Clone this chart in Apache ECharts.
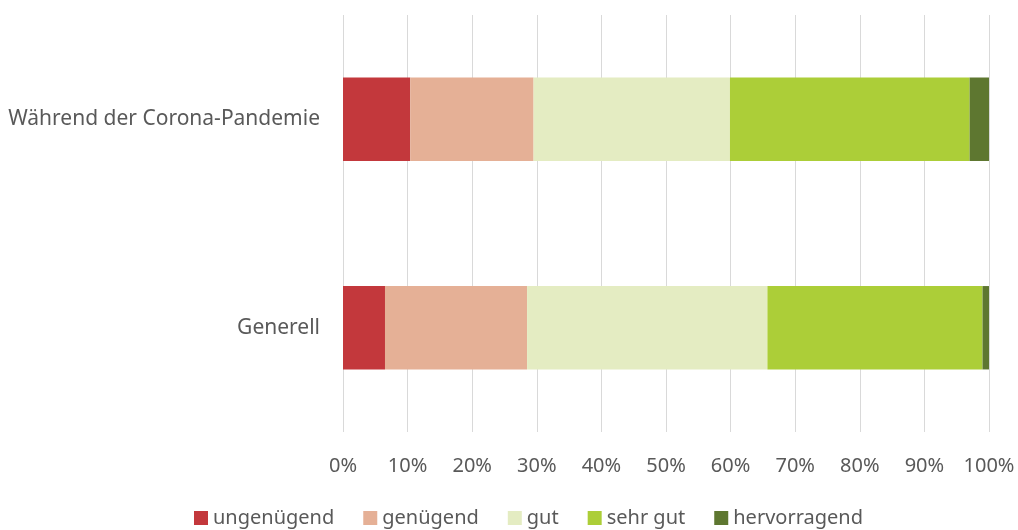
<!DOCTYPE html>
<html>
<head>
<meta charset="utf-8">
<script src="https://cdn.jsdelivr.net/npm/echarts@6/dist/echarts.min.js"></script>
<style>
  html, body { margin: 0; padding: 0; background: #fff; }
  #chart { width: 1018px; height: 530px; }
</style>
</head>
<body>
<div id="chart"></div>
<script>
const categories = ['Während der Corona-Pandemie', 'Generell']
const seriesNames = ['ungenügend', 'genügend', 'gut', 'sehr gut', 'hervorragend']
const ungenuegend = [10.4, 6.5]
const genuegend = [19.1, 22.0]
const gut = [30.4, 37.2]
const sehrGut = [37.1, 33.3]
const hervorragend = [3.0, 1.0]
const xTicks = [0, 10, 20, 30, 40, 50, 60, 70, 80, 90, 100]

const colors = ['#C3383C', '#E5B096', '#E4ECC2', '#ACCE38', '#5E7730']
const values = [ungenuegend, genuegend, gut, sehrGut, hervorragend]
const font = 'Noto Sans'
const textColor = '#595959'

const chart = echarts.init(document.getElementById('chart'))
chart.setOption({
  animation: false,
  grid: { left: 343, right: 29, top: 15, bottom: 98 },
  legend: {
    top: 503,
    left: 189,
    itemWidth: 14,
    itemHeight: 14,
    itemGap: 29,
    icon: 'rect',
    textStyle: { color: textColor, fontSize: 20, fontFamily: font },
    data: seriesNames
  },
  xAxis: {
    type: 'value',
    min: xTicks[0],
    max: xTicks[xTicks.length - 1],
    interval: 10,
    axisLine: { show: false },
    axisTick: { show: false },
    axisLabel: { color: textColor, fontSize: 20, fontFamily: font, margin: 24, formatter: '{value}%' },
    splitLine: { lineStyle: { color: '#D9D9D9', width: 1 } }
  },
  yAxis: {
    type: 'category',
    inverse: true,
    data: categories,
    axisLine: { show: false },
    axisTick: { show: false },
    axisLabel: { color: textColor, fontSize: 21, fontFamily: font, margin: 23 }
  },
  series: seriesNames.map((name, i) => ({
    name: name,
    type: 'bar',
    stack: 'total',
    barWidth: '40%',
    data: values[i],
    itemStyle: { color: colors[i] }
  }))
})
</script>
</body>
</html>
